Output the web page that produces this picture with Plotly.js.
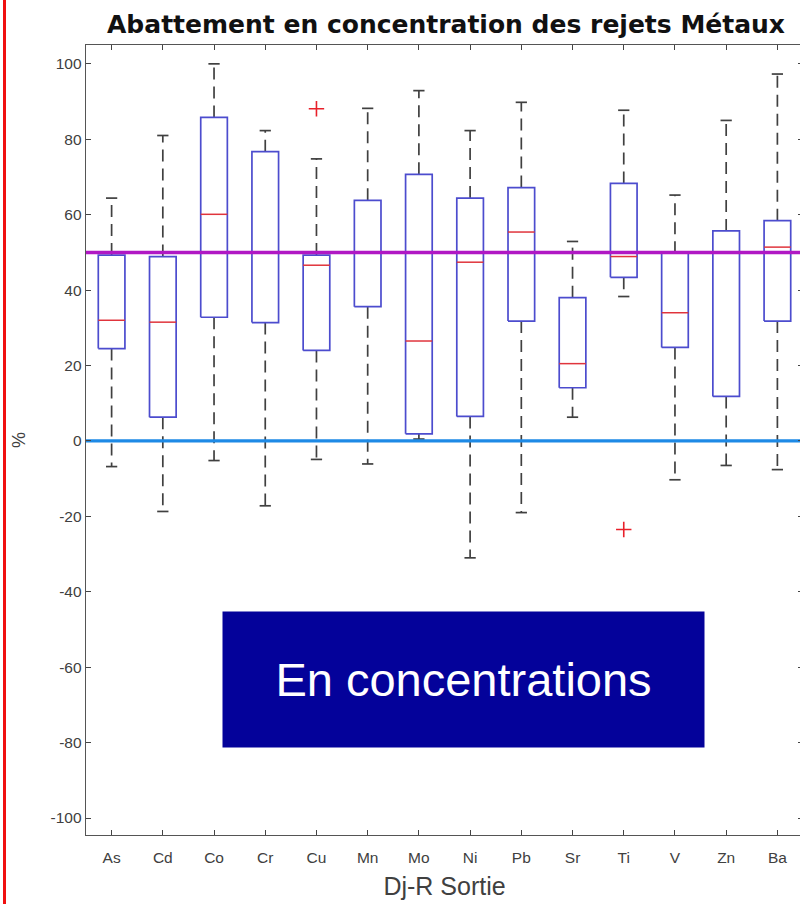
<!DOCTYPE html>
<html>
<head>
<meta charset="utf-8">
<script src="https://cdn.plot.ly/plotly-3.0.1.min.js"></script>
<style>
html, body { margin: 0; padding: 0; overflow: hidden; background: #fff; width: 800px; height: 904px; }
#chart { position: absolute; left: 0; top: 0; width: 806px; height: 904px; }
#redbar { position: absolute; left: 3px; top: 0; width: 3px; height: 904px; background: #f01010; z-index: 5; }
</style>
</head>
<body>
<div id="chart"></div>
<div id="redbar"></div>
<script>
// ---- Data ----
const categories   = ['As','Cd','Co','Cr','Cu','Mn','Mo','Ni','Pb','Sr','Ti','V','Zn','Ba'];
const lowerWhisker = [-6.8,-18.7,-5.2,-17.2,-4.9,-6.1, 0.5,-31.0,-19.0, 6.3,38.3,-10.3,-6.5,-7.6];
const q1           = [24.5,  6.3,32.8, 31.4,24.0,35.6, 1.9,  6.5, 31.8,14.1,43.4, 24.8,11.8,31.8];
const medians      = [32.0, 31.5,60.1, 50.0,46.6,50.0,26.5, 47.4, 55.4,20.5,48.9, 34.0,50.0,51.4];
const q3           = [49.3, 48.9,85.8, 76.7,49.3,63.8,70.7, 64.4, 67.2,38.0,68.3, 49.8,55.7,58.4];
const upperWhisker = [64.4, 81.0,100.0,82.3,74.8,88.2,92.9, 82.3, 89.8,52.9,87.7, 65.2,85.0,97.3];
const outlierCats  = ['Cu','Ti'];
const outlierVals  = [88.1,-23.5];
const targetLine   = 50;   // magenta reference
const zeroLine     = 0;    // blue reference
const yTicks       = [-100,-80,-60,-40,-20,0,20,40,60,80,100];
const yTickText    = ['-100','-80','-60','-40','-20','0','20','40','60','80','100'];

// ---- Build geometry through the x/y axes ----
const pos = categories.map((c,i)=>i+1);
const halfBox = 0.26, halfCap = 0.11;
const bx=[],by=[], wx=[],wy=[], cx=[],cy=[], mx=[],my=[];
pos.forEach((p,i)=>{
  bx.push(p-halfBox,p+halfBox,p+halfBox,p-halfBox,p-halfBox,null);
  by.push(q1[i],q1[i],q3[i],q3[i],q1[i],null);
  wx.push(p,p,null,p,p,null);
  wy.push(q3[i],upperWhisker[i],null,q1[i],lowerWhisker[i],null);
  cx.push(p-halfCap,p+halfCap,null,p-halfCap,p+halfCap,null);
  cy.push(upperWhisker[i],upperWhisker[i],null,lowerWhisker[i],lowerWhisker[i],null);
  mx.push(p-halfBox,p+halfBox,null);
  my.push(medians[i],medians[i],null);
});
const ox = outlierCats.map(c=>categories.indexOf(c)+1);
const xr = [0.5, categories.length+0.5];

const traces = [
  {x:wx,y:wy,mode:'lines',line:{color:'#404040',width:1.7,dash:'12px,7px'},hoverinfo:'skip'},
  {x:cx,y:cy,mode:'lines',line:{color:'#404040',width:1.7},hoverinfo:'skip'},
  {x:bx,y:by,mode:'lines',line:{color:'#4c4cce',width:1.7},hoverinfo:'skip'},
  {x:mx,y:my,mode:'lines',line:{color:'#e0343c',width:1.5},hoverinfo:'skip'},
  {x:ox,y:outlierVals,mode:'markers',marker:{symbol:'cross-thin',size:11,line:{color:'#e8202a',width:1.6}},hoverinfo:'skip'},
  {x:xr,y:[zeroLine,zeroLine],mode:'lines',line:{color:'#1e8ae6',width:3.2},hoverinfo:'skip'},
  {x:xr,y:[targetLine,targetLine],mode:'lines',line:{color:'#b018c4',width:3.5},hoverinfo:'skip'}
];

const layout = {
  width: 806, height: 904,
  margin: {l:86, r:3, t:45, b:69},
  paper_bgcolor:'#ffffff', plot_bgcolor:'#ffffff',
  showlegend:false,
  font:{family:'Liberation Sans, Arial, sans-serif', color:'#404040'},
  title:{text:'Abattement en concentration des rejets Métaux',
         font:{family:'DejaVu Sans, sans-serif', size:25, color:'#111', weight:'bold'},
         xref:'paper', x:(446-86)/717, xanchor:'center', yref:'container', y:1-24/904, yanchor:'middle'},
  xaxis:{range:xr, tickmode:'array', tickvals:pos, ticktext:categories,
         ticks:'inside', ticklen:5, tickwidth:1, tickcolor:'#444',
         showline:true, linecolor:'#555', linewidth:1.3, mirror:'ticks',
         showgrid:false, zeroline:false, ticklabelstandoff:8,
         tickfont:{size:15.5, color:'#404040'},
         title:{text:'Dj-R Sortie', font:{size:25, color:'#404040'}, standoff:12}},
  yaxis:{range:[-104.5,105], tickmode:'array', tickvals:yTicks, ticktext:yTickText,
         ticks:'inside', ticklen:5, tickwidth:1, tickcolor:'#444',
         showline:true, linecolor:'#555', linewidth:1.3, mirror:'ticks',
         showgrid:false, zeroline:false,
         tickfont:{size:15.5, color:'#404040'},
         title:{text:'%', font:{size:18, color:'#404040'}, standoff:20}},
  annotations:[{
    text:'En concentrations', xref:'paper', yref:'paper',
    x:(463-86)/717, y:(835-679.5)/790, xanchor:'center', yanchor:'middle',
    showarrow:false, width:481, height:135, borderpad:0,
    bgcolor:'#04029a', font:{family:'Liberation Sans, Arial, sans-serif', size:47, color:'#ffffff'}
  }]
};

Plotly.newPlot('chart', traces, layout, {staticPlot:true, displayModeBar:false});
</script>
</body>
</html>
